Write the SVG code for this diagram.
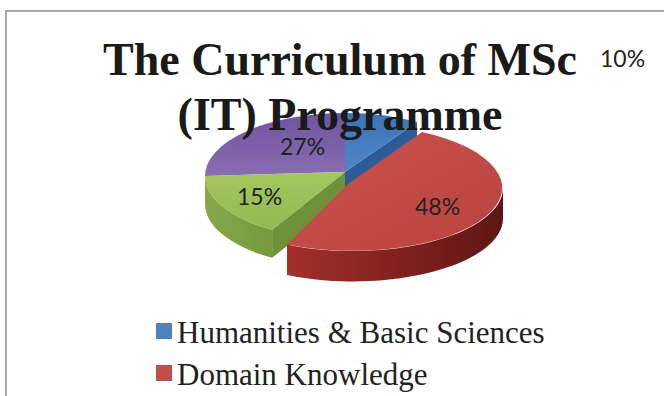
<svg xmlns="http://www.w3.org/2000/svg" width="664" height="396" viewBox="0 0 664 396">
<defs>
<linearGradient id="gBlue" x1="0" y1="0" x2="0" y2="1"><stop offset="0" stop-color="#3f73b8"/><stop offset="1" stop-color="#4f86c9"/></linearGradient>
<linearGradient id="gPurple" x1="0" y1="0" x2="0" y2="1"><stop offset="0" stop-color="#6f54a0"/><stop offset="1" stop-color="#8a6db0"/></linearGradient>
<linearGradient id="gGreen" x1="0" y1="0" x2="0" y2="1"><stop offset="0" stop-color="#a4c75e"/><stop offset="1" stop-color="#94b852"/></linearGradient>
<linearGradient id="gRed" x1="0" y1="0" x2="1" y2="1"><stop offset="0" stop-color="#c9534f"/><stop offset="1" stop-color="#b9443f"/></linearGradient>
<linearGradient id="gRedSide" x1="0" y1="0" x2="1" y2="0"><stop offset="0" stop-color="#a3302c"/><stop offset="0.6" stop-color="#7c1f1c"/><stop offset="1" stop-color="#5e1614"/></linearGradient>
<linearGradient id="gGreenSide" x1="0" y1="0" x2="1" y2="0"><stop offset="0" stop-color="#86a84a"/><stop offset="1" stop-color="#749a3c"/></linearGradient>
</defs>
<style>
.frame{stroke:#8f8f8f;stroke-width:1.5;fill:none}
.title{font-family:"Liberation Serif","Times New Roman",serif;font-weight:bold;font-size:46px;fill:#1a1a1a}
.pct{font-family:Lato,"Liberation Sans",sans-serif;font-size:23px;fill:#222}
.leg{font-family:"Liberation Serif","Times New Roman",serif;font-size:31px;fill:#222}
</style>
<path class="frame" d="M6 396 V11 H664"/>

<g id="pie">
  <path d="M345 172 L417 121.9 L417 149.9 L345 200 Z" fill="#2b5c98"/>
  <path d="M345 172 L272.1 229.8 L272.1 257.8 L345 200 Z" fill="#6f9038"/>
  <path d="M272.1 229.8 A140 63 0 0 1 205 176 L205 204 A140 63 0 0 0 272.1 257.8 Z" fill="url(#gGreenSide)"/>
  <g id="slice-blue"><path d="M345 172 L345 113 A140 63 0 0 1 417 121.9 Z" fill="url(#gBlue)"/></g>
  <g id="slice-purple"><path d="M345 172 L205 176 A140 63 0 0 1 345 113 Z" fill="url(#gPurple)"/></g>
  <g id="slice-green"><path d="M345 172 L272.1 229.8 A140 63 0 0 1 205 176 Z" fill="url(#gGreen)"/></g>
  <g id="slice-red">
    <path d="M503 188 A150 63 0 0 1 287 244.6 L287 275 A150 63 0 0 0 503 218 Z" fill="url(#gRedSide)"/>
    <path d="M348 184 L422 132.1 A150 63 0 0 1 287 244.6 Z" fill="url(#gRed)"/>
  </g>
</g>

<g id="labels">
  <text class="pct" x="280" y="155">27%</text>
  <text class="pct" x="237" y="205">15%</text>
  <text class="pct" x="415" y="215">48%</text>
  <text class="pct" x="600" y="67">10%</text>
</g>

<g id="title">
  <text class="title" x="340" y="75" text-anchor="middle">The Curriculum of MSc</text>
  <text class="title" x="340" y="130" text-anchor="middle">(IT) Programme</text>
</g>

<g id="legend">
  <rect x="156" y="323" width="16" height="16" fill="#4f81bd"/>
  <text class="leg" x="177" y="343">Humanities &amp; Basic Sciences</text>
  <rect x="156" y="365" width="16" height="16" fill="#c0504d"/>
  <text class="leg" x="177" y="385">Domain Knowledge</text>
</g>
</svg>
